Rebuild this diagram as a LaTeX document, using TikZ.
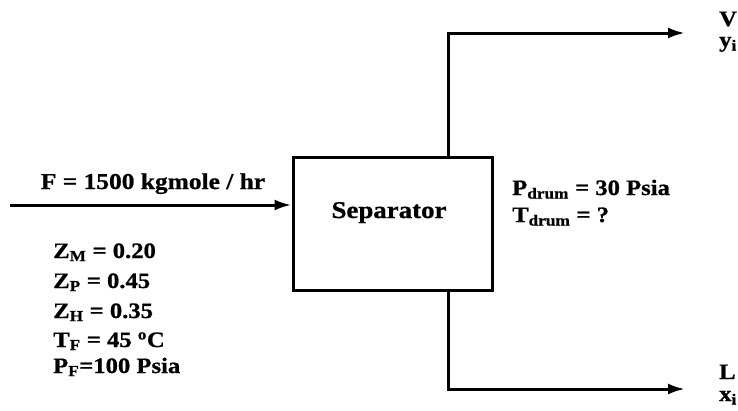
\documentclass[tikz,border=0pt]{standalone}
\usepackage{fontspec}
\setmainfont[FakeStretch=1.12,FakeBold=0.8]{Liberation Serif}
\usetikzlibrary{arrows.meta}
\newcommand\lowtxt[1]{\textsubscript{#1}}
\begin{document}
\begin{tikzpicture}[x=1pt,y=-1pt,
  stream/.style={line width=3pt,-{Latex[length=17pt,width=11pt]}},
  lbl/.style={inner sep=0pt,font=\bfseries\fontsize{22}{26}\selectfont},
  unit/.style={draw,line width=3pt,minimum width=199pt,minimum height=133pt,inner sep=0pt,font=\bfseries\fontsize{24}{26}\selectfont}]
\useasboundingbox (0,0) rectangle (738,410);
% flash drum
\node[unit] (sep) at (392.5,223.5) {};
\node[lbl,font=\bfseries\fontsize{24}{26}\selectfont,anchor=base] (septxt) at (389,218) {Separator};
% stream end points
\coordinate (feedin) at (10,205);
\coordinate (vtop) at (448,33);
\coordinate (vout) at (685,33);
\coordinate (lbot) at (448,389);
\coordinate (lout) at (685,389);
% streams
\draw[stream] (feedin) -- (feedin -| sep.west);
\draw[stream] (sep.north -| vtop) -- (vtop) -- (vout);
\draw[stream] (sep.south -| lbot) -- (lbot) -- (lout);
% feed labels
\node[lbl,font=\bfseries\fontsize{22.7}{26}\selectfont,anchor=base] (flow) at (153,189) {F = 1500 kgmole / hr};
\node[lbl,anchor=base west] (zm) at (53,258) {Z\lowtxt{M} = 0.20};
\node[lbl,anchor=base west] (zp) at (53,288) {Z\lowtxt{P} = 0.45};
\node[lbl,anchor=base west] (zh) at (53,318) {Z\lowtxt{H} = 0.35};
\node[lbl,anchor=base west] (tf) at (53,347) {T\lowtxt{F} = 45 \textsuperscript{o}C};
\node[lbl,anchor=base west] (pf) at (53,373) {P\lowtxt{F}=100 Psia};
% drum conditions
\node[lbl,anchor=base west] (pd) at (512,195) {P\lowtxt{drum} = 30 Psia};
\node[lbl,anchor=base west] (td) at (512,222) {T\lowtxt{drum} = ?};
% product labels
\node[lbl,anchor=base west] (vap) at (719,26) {V};
\node[lbl,anchor=base west] (yi) at (719,47) {y\lowtxt{i}};
\node[lbl,anchor=base west] (liq) at (719,379) {L};
\node[lbl,anchor=base west] (xi) at (719,401) {x\lowtxt{i}};
\end{tikzpicture}
\end{document}
